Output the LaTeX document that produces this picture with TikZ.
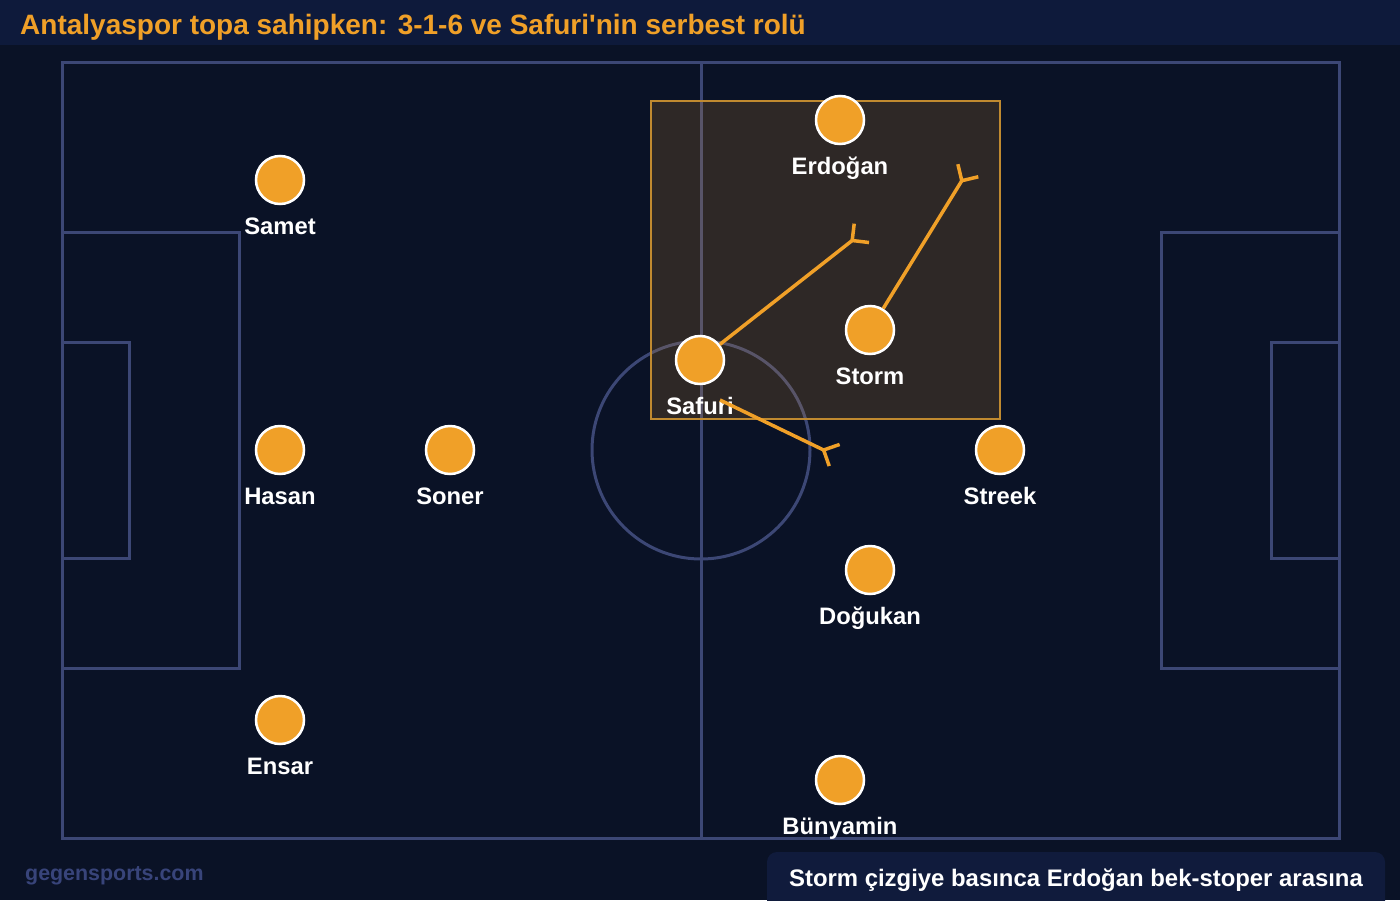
\documentclass[tikz,border=0pt]{standalone}
\usepackage{fontspec}
\setmainfont{Liberation Sans}
\newfontfamily\plainsans{Liberation Sans}
\usetikzlibrary{arrows.meta}
\definecolor{bg}{HTML}{0A1226}
\definecolor{titlebar}{HTML}{0E1A3B}
\definecolor{pitchline}{HTML}{3C4775}
\definecolor{gold}{HTML}{F0A028}
\definecolor{boxedge}{HTML}{C08A30}
\definecolor{note}{HTML}{101B3C}
\definecolor{brand}{HTML}{38447A}
\tikzset{
  player/.style={circle, fill=gold, draw=white, line width=2.5pt, minimum size=48pt, inner sep=0pt},
  pname/.style={text=white, font=\bfseries\fontsize{23.8}{24}\selectfont, anchor=base, inner sep=0pt},
  pline/.style={draw=pitchline, line width=3pt},
  run/.style={draw=gold, line width=3.5pt, -{Straight Barb[reversed, length=12pt, width=24pt, line width=3.5pt]}}
}
\begin{document}
\begin{tikzpicture}[x=1pt,y=-1pt]
\useasboundingbox (0,0) rectangle (1400,900);
\fill[bg] (0,0) rectangle (1400,900);
\fill[titlebar] (0,0) rectangle (1400,45);
\node[anchor=base west, inner sep=0pt, text=gold, font=\plainsans\bfseries\fontsize{28}{28}\selectfont] (title) at (20,34) {Antalyaspor topa sahipken: 3-1-6 ve Safuri'nin serbest rolü};
% pitch
\draw[pline] (62,62) rectangle (1339,838);
\draw[pline] (701,62) -- (701,838);
\draw[pline] (701,450) circle (109);
\draw[pline] (62,232) rectangle (239,668);
\draw[pline] (62,342) rectangle (129,558);
\draw[pline] (1339,232) rectangle (1161,668);
\draw[pline] (1339,342) rectangle (1271,558);
% highlight zone
\fill[gold, fill opacity=0.155] (651,101) rectangle (1000,419);
\draw[boxedge, line width=2.5pt] (651,101) rectangle (1000,419);
% players
\node[player] (samet) at (280,180) {};
\node[pname] (lsamet) at (280,234) {Samet};
\node[player] (hasan) at (280,450) {};
\node[pname] (lhasan) at (280,504) {Hasan};
\node[player] (soner) at (450,450) {};
\node[pname] (lsoner) at (450,504) {Soner};
\node[player] (ensar) at (280,720) {};
\node[pname] (lensar) at (280,774) {Ensar};
\node[player] (safuri) at (700,360) {};
\node[pname] (lsafuri) at (700,414) {Safuri};
\node[player] (erdogan) at (840,120) {};
\node[pname] (lerdogan) at (840,174) {Erdoğan};
\node[player] (storm) at (870,330) {};
\node[pname] (lstorm) at (870,384) {Storm};
\node[player] (streek) at (1000,450) {};
\node[pname] (lstreek) at (1000,504) {Streek};
\node[player] (dogukan) at (870,570) {};
\node[pname] (ldogukan) at (870,624) {Doğukan};
\node[player] (bunyamin) at (840,780) {};
\node[pname] (lbunyamin) at (840,834) {Bünyamin};
% runs
\coordinate (t1) at (863,232);
\coordinate (t2) at (969,169);
\coordinate (s3) at (720,400);
\coordinate (t3) at (836,456);
\draw[run] (safuri) -- (t1);
\draw[run] (storm) -- (t2);
\draw[run] (s3) -- (t3);
% footer
\node[anchor=base west, inner sep=0pt, text=brand, font=\bfseries\fontsize{21.4}{22}\selectfont] (brand) at (25,880) {gegensports.com};
\fill[note, rounded corners=10pt] (767,852) rectangle (1385,912);
\node[anchor=base, inner sep=0pt, text=white, font=\bfseries\fontsize{23.9}{24}\selectfont] (caption) at (1076,886) {Storm çizgiye basınca Erdoğan bek-stoper arasına};
\end{tikzpicture}
\end{document}
